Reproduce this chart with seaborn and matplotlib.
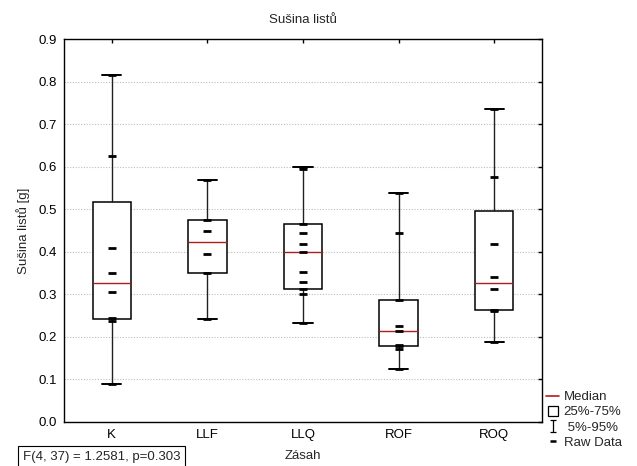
import numpy as np
import pandas as pd
import matplotlib
matplotlib.use("Agg")
import matplotlib.pyplot as plt
from matplotlib.lines import Line2D
from matplotlib.path import Path
import seaborn as sns

# ---- data ----
categories = ["K", "LLF", "LLQ", "ROF", "ROQ"]
K = [0.817, 0.626, 0.408, 0.349, 0.305, 0.245, 0.237, 0.088]
LLF = [0.569, 0.474, 0.449, 0.395, 0.351, 0.243]
LLQ = [0.599, 0.595, 0.465, 0.444, 0.418, 0.399, 0.352, 0.330, 0.313, 0.300, 0.233]
ROF = [0.538, 0.444, 0.2865, 0.226, 0.2136, 0.181, 0.178, 0.172, 0.1235]
ROQ = [0.736, 0.5766, 0.4175, 0.3406, 0.3117, 0.263, 0.261, 0.1884]
groups = [K, LLF, LLQ, ROF, ROQ]
y_ticks = [0.0, 0.1, 0.2, 0.3, 0.4, 0.5, 0.6, 0.7, 0.8, 0.9]

title = "Sušina listů"
ylabel = "Sušina listů [g]"
xlabel = "Zásah"
stat_text = "F(4, 37) = 1.2581, p=0.303"

# raw data table
raw = pd.DataFrame({
    "Zásah": np.repeat(categories, [len(g) for g in groups]),
    "value": np.concatenate(groups),
})

# summary (5%, 25%, median, 75%, 95%) computed from the raw values
summ_rows = []
for cat, g in zip(categories, groups):
    q = np.percentile(g, [5, 25, 50, 75, 95], method="averaged_inverted_cdf")
    for v in q:
        summ_rows.append((cat, v))
summ = pd.DataFrame(summ_rows, columns=["Zásah", "value"])

FS = 9.5
sns.set_style("white")
plt.rcParams["font.family"] = ["Liberation Sans", "DejaVu Sans"]
plt.rcParams["font.size"] = FS

fig = plt.figure(figsize=(6.37, 4.66), dpi=100)
ax = fig.add_axes([64 / 637, 1 - 421.8 / 466, (542 - 64) / 637, (421.8 - 39.3) / 466])

ax.set_axisbelow(True)
ax.yaxis.grid(True, linestyle=(0, (1, 1.5)), color="#bdbdbd", linewidth=0.8)
ax.xaxis.grid(False)

sns.boxplot(
    data=summ, x="Zásah", y="value", order=categories, ax=ax,
    whis=(0, 100), width=0.4, showfliers=False,
    boxprops=dict(facecolor="white", edgecolor="black", linewidth=1.1),
    medianprops=dict(color="#b01c1c", linewidth=1.0),
    whiskerprops=dict(color="#202020", linewidth=1.0),
    capprops=dict(color="black", linewidth=1.4),
)

sns.stripplot(
    data=raw, x="Zásah", y="value", order=categories, ax=ax,
    jitter=False, marker="_", size=5.5, linewidth=2.0, color="black", zorder=5,
)

ax.set_xlim(-0.5, 4.5)
ax.set_ylim(0.0, 0.9)
ax.set_yticks(y_ticks)
ax.set_yticklabels([f"{v:.1f}" for v in y_ticks])
ax.tick_params(direction="in", length=3, width=1, top=True, right=True,
               labelsize=FS, colors="black", pad=5)
for s in ax.spines.values():
    s.set_visible(True)
    s.set_color("black")
    s.set_linewidth(1.0)

ax.set_title(title, fontsize=FS, pad=12)
ax.set_xlabel(xlabel, fontsize=FS, labelpad=7)
ax.set_ylabel(ylabel, fontsize=FS, labelpad=6)

# legend
ibar = Path([(-0.5, 1), (0.5, 1), (0, 1), (0, -1), (-0.5, -1), (0.5, -1)],
            [Path.MOVETO, Path.LINETO, Path.MOVETO, Path.LINETO, Path.MOVETO, Path.LINETO])
handles = [
    Line2D([], [], color="#b01c1c", linewidth=1.2),
    Line2D([], [], linestyle="none", marker="s", markersize=7.5,
           markerfacecolor="white", markeredgecolor="black", markeredgewidth=0.9),
    Line2D([], [], linestyle="none", marker=ibar, markersize=9,
           markeredgecolor="black", markeredgewidth=0.9),
    Line2D([], [], linestyle="none", marker="_", markersize=5,
           markeredgecolor="black", markeredgewidth=1.8),
]
labels = ["Median", "25%-75%", " 5%-95%", "Raw Data"]
fig.legend(handles, labels, loc="upper left", bbox_to_anchor=(546 / 637, 1 - 391 / 466),
           frameon=False, fontsize=FS, handlelength=1.0, handletextpad=0.35,
           labelspacing=0.22, borderaxespad=0, borderpad=0)

fig.text(23 / 637, 1 - 457 / 466, stat_text, fontsize=FS, va="center", ha="left",
         bbox=dict(boxstyle="square,pad=0.35", facecolor="white", edgecolor="black", linewidth=0.8))

fig.savefig("out.png", dpi=100)
